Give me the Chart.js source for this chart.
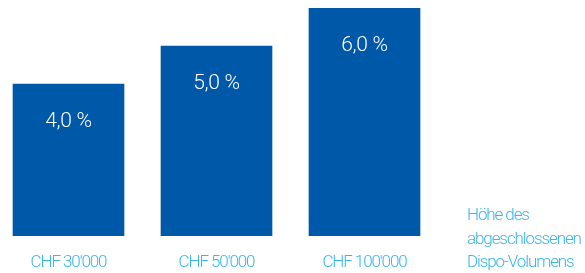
<!DOCTYPE html>
<html>
<head>
<meta charset="utf-8">
<script src="https://cdn.jsdelivr.net/npm/chart.js@4/dist/chart.umd.min.js"></script>
<style>
  html, body { margin: 0; padding: 0; background: #ffffff; }
  #wrap { position: relative; width: 585px; height: 273px; }
</style>
</head>
<body>
<div id="wrap"><canvas id="c" width="585" height="273"></canvas></div>
<script>
const categories = ["CHF 30'000", "CHF 50'000", "CHF 100'000"];
const values = [4.0, 5.0, 6.0];
const valueLabels = ["4,0 %", "5,0 %", "6,0 %"];
const axisTitleLines = ["Höhe des", "abgeschlossenen", "Dispo-Volumens"];

const FONT = "'Roboto', sans-serif";
const BAR_BLUE = '#0058A8';
const LIGHT_BLUE = '#38B6EC';

const condensePlugin = {
  id: 'condense',
  beforeDraw(chart) { chart.ctx.letterSpacing = '-1.1px'; }
};

const labelPlugin = {
  id: 'valueLabels',
  afterDatasetsDraw(chart) {
    const ctx = chart.ctx;
    const meta = chart.getDatasetMeta(0);
    ctx.save();
    ctx.letterSpacing = '-0.3px';
    ctx.fillStyle = '#ffffff';
    ctx.font = '300 21px ' + FONT;
    ctx.textAlign = 'center';
    ctx.textBaseline = 'middle';
    meta.data.forEach((bar, i) => {
      ctx.fillText(valueLabels[i], bar.x, bar.y + 38);
    });
    ctx.letterSpacing = '-1.1px';
    ctx.fillStyle = LIGHT_BLUE;
    ctx.font = '300 17px ' + FONT;
    ctx.textAlign = 'left';
    const x0 = 467;
    const yb = chart.chartArea.bottom;
    axisTitleLines.forEach((t, i) => {
      ctx.fillText(t, x0, yb - 20 + i * 23.5);
    });
    ctx.restore();
  }
};

new Chart(document.getElementById('c'), {
  type: 'bar',
  data: {
    datasets: [{
      data: categories.map((c, i) => ({ x: i, y: values[i] })),
      backgroundColor: BAR_BLUE,
      borderWidth: 0,
      barThickness: 111
    }]
  },
  options: {
    responsive: false,
    animation: false,
    events: [],
    layout: { padding: { top: 8, left: 0, right: 0, bottom: 0 } },
    plugins: { legend: { display: false }, tooltip: { enabled: false }, title: { display: false } },
    scales: {
      x: {
        type: 'linear',
        offset: false,
        min: -68.5 / 148,
        max: -68.5 / 148 + 585 / 148,
        grid: { display: false, drawTicks: false, offset: false },
        border: { display: false },
        afterFit: s => { s.height = 37; },
        ticks: {
          stepSize: 1,
          includeBounds: false,
          autoSkip: false,
          maxRotation: 0,
          padding: 17,
          color: LIGHT_BLUE,
          font: { family: FONT, size: 17, weight: '300' },
          callback: v => (Number.isInteger(v) && categories[v] !== undefined) ? categories[v] : ''
        }
      },
      y: {
        display: false,
        min: 0,
        max: 6
      }
    }
  },
  plugins: [condensePlugin, labelPlugin]
});
</script>
</body>
</html>
